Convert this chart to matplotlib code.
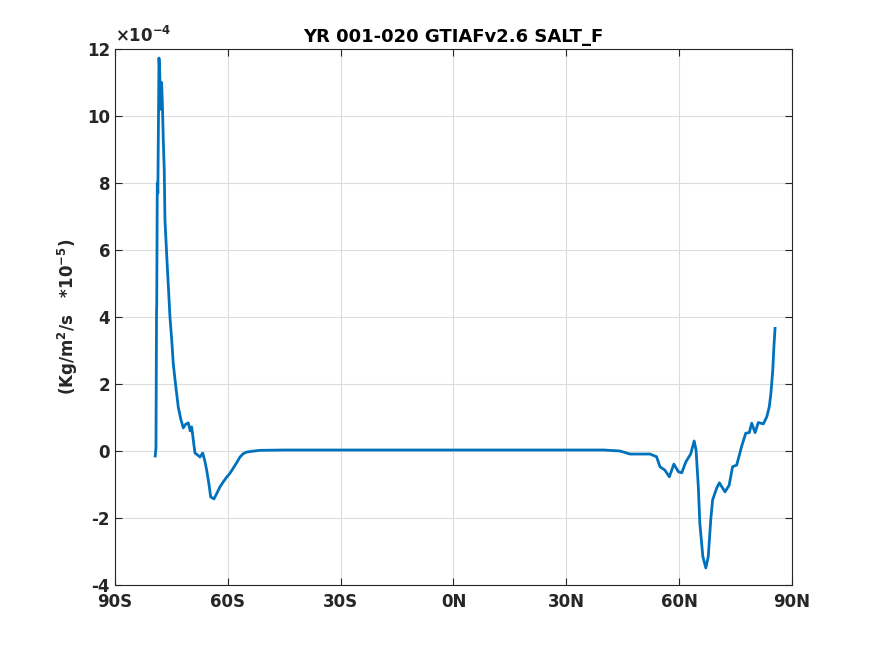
import matplotlib.pyplot as plt

# latitude (deg) and SALT_F (x 1e-4)
lat = [-79.3, -79.1, -78.95, -78.9, -78.75, -78.6, -78.3, -78.1, -77.85, -77.6, -77.4,
       -77.16, -76.9, -76.71, -76.4, -76.09, -75.7, -75.38, -74.9, -74.5, -73.8,
       -73.17, -72.5, -71.84, -71.2, -70.51, -70.0, -69.61, -69.2, -68.73, -68.0,
       -67.4, -66.68, -66.1, -65.62, -65.0, -64.55, -63.68, -63.0, -62.08, -61.2,
       -60.3, -59.4, -58.55, -57.6, -56.76, -55.9, -54.98, -53.0, -51.45, -45.0,
       -30.0, -15.0, 0.0, 15.0, 30.0, 40.0, 44.27, 46.93, 50.0, 52.25, 54.0, 54.9,
       56.2, 57.4, 58.6, 59.8, 60.7, 61.8, 63.07, 64.0, 64.5, 65.1, 65.5, 66.3,
       67.1, 67.75, 68.4, 68.9, 69.97, 70.7, 72.2, 73.3, 74.2, 75.3, 76.6, 77.7,
       78.65, 79.3, 80.2, 81.05, 82.4, 83.3, 83.97, 84.4, 84.9, 85.2, 85.5]
salt = [-0.15, 0.1, 4.2, 4.3, 8.0, 7.7, 11.73, 11.3, 10.2, 11.0, 10.4,
        9.3, 8.4, 6.9, 6.2, 5.5, 4.7, 4.0, 3.3, 2.6, 1.9,
        1.31, 0.95, 0.69, 0.80, 0.84, 0.60, 0.72, 0.35, -0.06, -0.12,
        -0.18, -0.06, -0.30, -0.57, -1.0, -1.37, -1.43, -1.28, -1.07, -0.92,
        -0.78, -0.66, -0.51, -0.34, -0.18, -0.08, -0.03, 0.0, 0.02, 0.03,
        0.03, 0.03, 0.03, 0.03, 0.03, 0.03, 0.0, -0.09, -0.09, -0.09, -0.17, -0.47,
        -0.57, -0.77, -0.39, -0.62, -0.65, -0.32, -0.09, 0.30, 0.03, -1.06, -2.15, -3.15,
        -3.49, -3.15, -2.06, -1.46, -1.11, -0.95, -1.22, -1.02, -0.47, -0.42, 0.13, 0.53,
        0.55, 0.83, 0.55, 0.85, 0.81, 1.02, 1.32, 1.72, 2.42, 3.11, 3.66]

xticks = [-90, -60, -30, 0, 30, 60, 90]
xlabels = ['90S', '60S', '30S', '0N', '30N', '60N', '90N']
yticks = [-4, -2, 0, 2, 4, 6, 8, 10, 12]

plt.rcParams['font.family'] = 'DejaVu Sans'
plt.rcParams['font.weight'] = 'bold'
plt.rcParams['axes.unicode_minus'] = False

fig = plt.figure(figsize=(8.75, 6.56), dpi=100)
ax = fig.add_axes([0.1314, 0.1082, 0.7737, 0.8171])
ax.plot(lat, salt, color='#0072BD', linewidth=2)

ax.set_xlim(-90, 90)
ax.set_ylim(-4, 12)
ax.set_xticks(xticks)
ax.set_xticklabels(xlabels)
ax.set_yticks(yticks)
ax.tick_params(direction='in', top=True, right=True, labelsize=12, length=5,
               colors='#262626', width=0.8)
ax.tick_params(axis='x', pad=6)
for lbl in ax.get_xticklabels() + ax.get_yticklabels():
    lbl.set_fontweight('bold')
for s in ax.spines.values():
    s.set_color('#262626')
    s.set_linewidth(0.8)
ax.grid(True, color='#dcdcdc', linewidth=0.8)
ax.set_axisbelow(True)

ax.set_title('YR 001-020 GTIAFv2.6 SALT_F', fontsize=13, fontweight='bold', pad=5)
ax.set_ylabel('(Kg/m$^\\mathbf{2}$/s   *10$^\\mathbf{-5}$)', fontsize=12, fontweight='bold',
              color='#262626', labelpad=5)
ax.text(0.0, 1.005, '$\\times$10$^{\\mathbf{-4}}$', transform=ax.transAxes, fontsize=12,
        fontweight='bold', color='#262626', va='bottom', ha='left')

fig.savefig('out.png', dpi=100)
